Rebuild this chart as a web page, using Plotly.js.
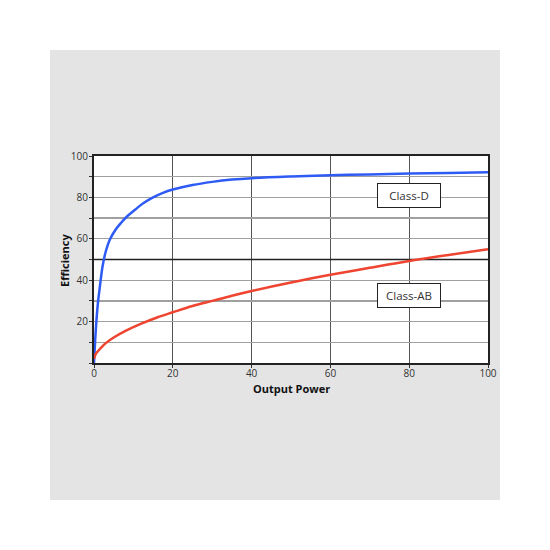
<!DOCTYPE html>
<html>
<head>
<meta charset="utf-8">
<script src="https://cdn.plot.ly/plotly-3.0.1.min.js"></script>
<style>html,body{margin:0;padding:0;background:#fff;}#chart{width:550px;height:550px;}</style>
</head>
<body>
<div id="chart"></div>
<script>
// Class-D efficiency curve
const classDPower = [0, 0.3, 0.6, 1.0, 1.5, 2.2, 3.0, 4.0, 5.5, 7.0, 8.5, 10.5, 12.5, 15, 17.5, 20, 25, 30, 35, 40, 50, 60, 70, 80, 90, 100];
const classDEff   = [0, 11, 20, 29, 37, 47, 54, 59.5, 64.5, 68, 71, 74.2, 77.2, 80, 82.2, 83.8, 86.0, 87.5, 88.6, 89.3, 90.1, 90.7, 91.1, 91.5, 91.8, 92.1];
// Class-AB efficiency curve
const classABPower = [0, 0.5, 1, 2, 3, 5, 8, 12, 16, 20, 25, 30, 35, 40, 50, 60, 70, 80, 90, 100];
const classABEff   = [2, 4.5, 5.7, 7.8, 9.6, 12.3, 15.5, 19, 22, 24.5, 27.5, 30, 32.5, 34.8, 38.9, 42.6, 46, 49.3, 52.2, 55];
// Labels
const seriesLabels = ["Class-D", "Class-AB"];
const labelX = [80, 80];
const labelY = [81, 32.5];
const yTickVals = [0, 10, 20, 30, 40, 50, 60, 70, 80, 90, 100];
const yTickText = ["", "", "20", "", "40", "", "60", "", "80", "", "100"];
const xTickVals = [0, 20, 40, 60, 80, 100];
const xTickText = ["0", "20", "40", "60", "80", "100"];
const xTitle = "Output Power";
const yTitle = "Efficiency";

const FONT = "'Open Sans', 'Noto Sans', sans-serif";

const traces = [
  {x: classDPower, y: classDEff, name: seriesLabels[0], mode: "lines",
   line: {color: "#2f5bf5", width: 2.5, shape: "spline", smoothing: 1}},
  {x: classABPower, y: classABEff, name: seriesLabels[1], mode: "lines",
   line: {color: "#ee4430", width: 2.5, shape: "spline", smoothing: 1}}
];

const annotations = seriesLabels.map((t, i) => ({
  x: labelX[i], y: labelY[i], xref: "x", yref: "y", text: t, showarrow: false,
  font: {family: FONT, size: 11.5, color: "#333"},
  bgcolor: "#ffffff", bordercolor: "#222", borderwidth: 1, borderpad: 2,
  width: 58, height: 19
}));
annotations.push({
  x: 0.5, y: -0.1208, xref: "paper", yref: "paper", text: xTitle, showarrow: false,
  xanchor: "center", yanchor: "middle",
  font: {family: FONT, size: 11, color: "#111", weight: "bold"}
});
annotations.push({
  x: -0.0736, y: 0.493, xref: "paper", yref: "paper", text: yTitle, showarrow: false,
  xanchor: "center", yanchor: "middle", textangle: -90,
  font: {family: FONT, size: 11, color: "#111", weight: "bold"}
});

const layout = {
  width: 550, height: 550,
  paper_bgcolor: "#ffffff", plot_bgcolor: "#ffffff",
  margin: {l: 94, r: 62, t: 156, b: 187, pad: 0},
  showlegend: false,
  font: {family: FONT, color: "#333"},
  xaxis: {
    range: [0, 100], tickvals: xTickVals, ticktext: xTickText,
    ticks: "outside", ticklen: 3, tickcolor: "#333", tickwidth: 1,
    ticklabelstandoff: -3,
    showgrid: true, gridcolor: "#555", gridwidth: 1.3, zeroline: false,
    showline: true, linecolor: "#222", linewidth: 2, mirror: true,
    tickfont: {family: FONT, size: 10, color: "#333"}
  },
  yaxis: {
    range: [0, 100], tickvals: yTickVals, ticktext: yTickText,
    ticks: "outside", ticklen: 3, tickcolor: "#333", tickwidth: 1,
    ticklabelstandoff: -1,
    showgrid: true, gridcolor: "#a0a0a0", gridwidth: 1.3, zeroline: false,
    showline: true, linecolor: "#222", linewidth: 2, mirror: true,
    tickfont: {family: FONT, size: 10, color: "#333"}
  },
  shapes: [
    {type: "rect", xref: "paper", yref: "paper", x0: -0.1117, x1: 1.0305, y0: -0.6618, y1: 1.512,
     fillcolor: "#e4e4e4", line: {width: 0}, layer: "below"},
    {type: "rect", xref: "x", yref: "y", x0: 0, x1: 100, y0: 0, y1: 100,
     fillcolor: "#ffffff", line: {width: 0}, layer: "below"},
    {type: "line", xref: "x", yref: "y", x0: 0, x1: 100, y0: 50, y1: 50,
     line: {color: "#222", width: 1.5}, layer: "between"}
  ],
  annotations: annotations
};

Plotly.newPlot("chart", traces, layout, {displayModeBar: false, staticPlot: true});
</script>
</body>
</html>
